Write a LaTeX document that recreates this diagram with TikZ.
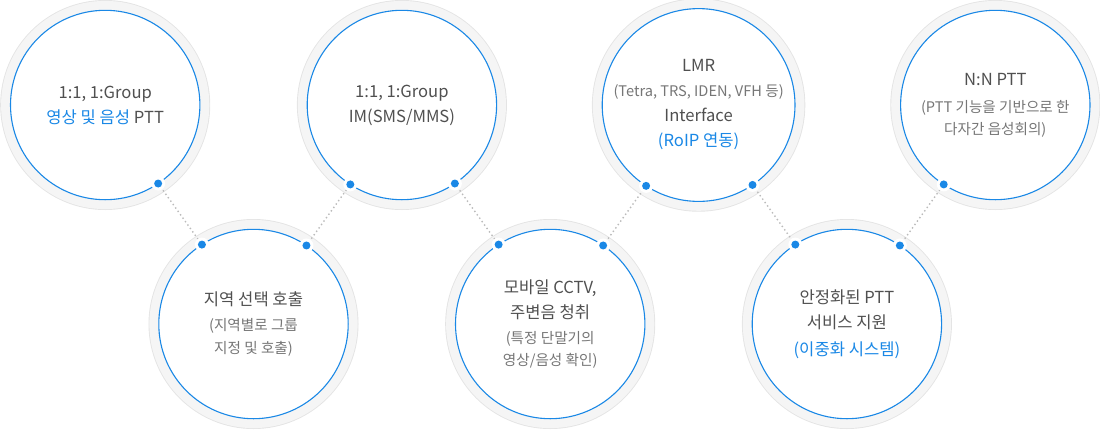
\documentclass[tikz,border=0pt]{standalone}
\usepackage{fontspec}
\setmainfont{Noto Sans CJK KR}
\usepackage{tikz}
\tikzset{>=latex}
\definecolor{pttblue}{HTML}{1A88E6}
\definecolor{ringfill}{HTML}{F5F5F5}
\definecolor{ringedge}{HTML}{E4E4E4}
\definecolor{textdark}{HTML}{505050}
\definecolor{textlight}{HTML}{767676}
\definecolor{linkgray}{HTML}{BBBBBB}
\newcommand*{\subtext}[1]{{\color{textlight}\fontsize{14.6}{22}\selectfont #1}}
\newcommand*{\hilite}[1]{{\color{pttblue}#1}}
\tikzset{
    pttcircle/.style={circle, minimum size=189.4pt, inner sep=0pt, outer sep=0pt,
        fill=white, draw=pttblue, line width=1.1pt,
        preaction={draw=ringedge, line width=20.6pt},
        preaction={draw=ringfill, line width=18.8pt},
        align=center, text=textdark, font=\fontsize{16.6}{25}\selectfont},
    link/.style={linkgray, line width=1.4pt, dash pattern=on 1.4pt off 2.8pt},
    halo/.style={white},
    linkdot/.style={pttblue}
}

\begin{document}
\begin{tikzpicture}[x=1pt, y=-1pt]
            \useasboundingbox (0, 0) rectangle (1100, 429);
            \node[pttcircle] (t1) at (105.2, 105) {1:1, 1:Group\\\hilite{영상 및 음성} PTT};
            \node[pttcircle] (t2) at (401.9, 105) {1:1, 1:Group\\IM(SMS/MMS)};
            \node[pttcircle] (t3) at (698.6, 105) {LMR\\\subtext{(Tetra, TRS, IDEN, VFH 등)}\\Interface\\\hilite{(RoIP 연동)}};
            \node[pttcircle] (t4) at (995.3, 105) {N:N PTT\\[2pt]\subtext{(PTT 기능을 기반으로 한}\\[-3pt]\subtext{다자간 음성회의)}};
            \node[pttcircle] (b1) at (253.5, 324) {지역 선택 호출\\\subtext{(지역별로 그룹}\\[-2pt]\subtext{지정 및 호출)}};
            \node[pttcircle] (b2) at (550.2, 324) {모바일 CCTV,\\주변음 청취\\\subtext{(특정 단말기의}\\[-3pt]\subtext{영상/음성 확인)}};
            \node[pttcircle] (b3) at (846.9, 324) {안정화된 PTT\\서비스 지원\\[2pt]\hilite{(이중화 시스템)}};
            % dotted links between the circles
            \draw[link] (t1.-56.6) -- (b1.123.4);
            \draw[link] (b1.56.6) -- (t2.-123.4);
            \draw[link] (t2.-56.6) -- (b2.123.4);
            \draw[link] (b2.56.6) -- (t3.-123.4);
            \draw[link] (t3.-56.6) -- (b3.123.4);
            \draw[link] (b3.56.6) -- (t4.-123.4);
            \fill[halo] (t1.-56.6) circle (7) (b1.123.4) circle (7) (b1.56.6) circle (7) (t2.-123.4) circle (7);
            \fill[halo] (t2.-56.6) circle (7) (b2.123.4) circle (7) (b2.56.6) circle (7) (t3.-123.4) circle (7);
            \fill[halo] (t3.-56.6) circle (7) (b3.123.4) circle (7) (b3.56.6) circle (7) (t4.-123.4) circle (7);
            \fill[linkdot] (t1.-56.6) circle (4) (b1.123.4) circle (4) (b1.56.6) circle (4) (t2.-123.4) circle (4);
            \fill[linkdot] (t2.-56.6) circle (4) (b2.123.4) circle (4) (b2.56.6) circle (4) (t3.-123.4) circle (4);
            \fill[linkdot] (t3.-56.6) circle (4) (b3.123.4) circle (4) (b3.56.6) circle (4) (t4.-123.4) circle (4);
        \end{tikzpicture}
\end{document}
